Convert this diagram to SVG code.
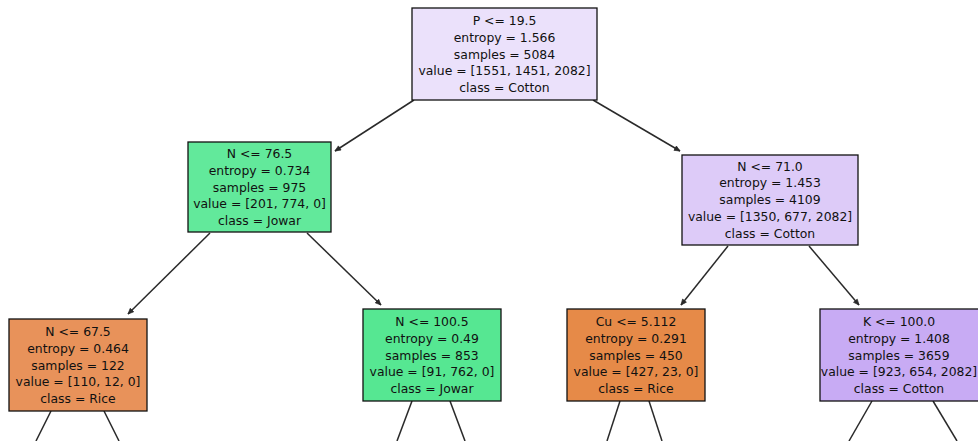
<svg xmlns="http://www.w3.org/2000/svg" width="978" height="441" viewBox="0 0 978 441">
<defs>
<style>
.box{stroke:#111;stroke-width:1.3}
.t{font-family:"DejaVu Sans",sans-serif;font-size:12.4px;fill:#111;text-anchor:middle}
.e{stroke:#2a2a2a;stroke-width:1.5;fill:none}
.a{marker-end:url(#arr)}
</style>
<marker id="arr" viewBox="0 0 10 10" refX="9" refY="5" markerWidth="7" markerHeight="7" markerUnits="userSpaceOnUse" orient="auto">
<path d="M1,1.5 L9,5 L1,8.5 Z" fill="#2a2a2a" stroke="#2a2a2a" stroke-width="1"/>
</marker>
</defs>
<rect width="978" height="441" fill="#fff"/>
<g id="connectors">
<line class="e a" x1="414" y1="100" x2="335" y2="151"/>
<line class="e a" x1="593" y1="100" x2="680" y2="151"/>
<line class="e a" x1="210" y1="233" x2="128" y2="314"/>
<line class="e a" x1="307" y1="233" x2="381" y2="305"/>
<line class="e a" x1="728" y1="246" x2="681" y2="305"/>
<line class="e a" x1="809" y1="246" x2="859" y2="305"/>
<line class="e" x1="51" y1="411" x2="36" y2="441"/>
<line class="e" x1="104" y1="411" x2="119" y2="441"/>
<line class="e" x1="412" y1="401" x2="397" y2="441"/>
<line class="e" x1="450" y1="401" x2="465" y2="441"/>
<line class="e" x1="620" y1="401" x2="607" y2="441"/>
<line class="e" x1="649" y1="401" x2="662" y2="441"/>
<line class="e" x1="872" y1="401" x2="849" y2="441"/>
<line class="e" x1="933" y1="401" x2="957" y2="441"/>
</g>
<g id="node0">
<rect class="box" x="412" y="8" width="185" height="92" fill="#ebe1fb"/>
<text class="t" x="504.5" y="25">P &lt;= 19.5</text>
<text class="t" x="504.5" y="41.8">entropy = 1.566</text>
<text class="t" x="504.5" y="58.6">samples = 5084</text>
<text class="t" x="504.5" y="75.4">value = [1551, 1451, 2082]</text>
<text class="t" x="504.5" y="92.2">class = Cotton</text>
</g>
<g id="node1">
<rect class="box" x="188" y="142" width="143" height="90" fill="#62e99b"/>
<text class="t" x="259.5" y="158">N &lt;= 76.5</text>
<text class="t" x="259.5" y="174.8">entropy = 0.734</text>
<text class="t" x="259.5" y="191.6">samples = 975</text>
<text class="t" x="259.5" y="208.4">value = [201, 774, 0]</text>
<text class="t" x="259.5" y="225.2">class = Jowar</text>
</g>
<g id="node2">
<rect class="box" x="682" y="155" width="176" height="90" fill="#ddcbf8"/>
<text class="t" x="770" y="170.5">N &lt;= 71.0</text>
<text class="t" x="770" y="187.3">entropy = 1.453</text>
<text class="t" x="770" y="204.1">samples = 4109</text>
<text class="t" x="770" y="220.9">value = [1350, 677, 2082]</text>
<text class="t" x="770" y="237.7">class = Cotton</text>
</g>
<g id="node3">
<rect class="box" x="9" y="319" width="138" height="92" fill="#e8925a"/>
<text class="t" x="78" y="336">N &lt;= 67.5</text>
<text class="t" x="78" y="352.8">entropy = 0.464</text>
<text class="t" x="78" y="369.6">samples = 122</text>
<text class="t" x="78" y="386.4">value = [110, 12, 0]</text>
<text class="t" x="78" y="403.2">class = Rice</text>
</g>
<g id="node4">
<rect class="box" x="363" y="309" width="138" height="92" fill="#56e792"/>
<text class="t" x="432" y="326">N &lt;= 100.5</text>
<text class="t" x="432" y="342.8">entropy = 0.49</text>
<text class="t" x="432" y="359.6">samples = 853</text>
<text class="t" x="432" y="376.4">value = [91, 762, 0]</text>
<text class="t" x="432" y="393.2">class = Jowar</text>
</g>
<g id="node5">
<rect class="box" x="567" y="309" width="138" height="92" fill="#e68a48"/>
<text class="t" x="636" y="326">Cu &lt;= 5.112</text>
<text class="t" x="636" y="342.8">entropy = 0.291</text>
<text class="t" x="636" y="359.6">samples = 450</text>
<text class="t" x="636" y="376.4">value = [427, 23, 0]</text>
<text class="t" x="636" y="393.2">class = Rice</text>
</g>
<g id="node6">
<rect class="box" x="820" y="309" width="164" height="92" fill="#c8abf4"/>
<text class="t" x="899" y="326">K &lt;= 100.0</text>
<text class="t" x="899" y="342.8">entropy = 1.408</text>
<text class="t" x="899" y="359.6">samples = 3659</text>
<text class="t" x="899" y="376.4">value = [923, 654, 2082]</text>
<text class="t" x="899" y="393.2">class = Cotton</text>
</g>
</svg>
